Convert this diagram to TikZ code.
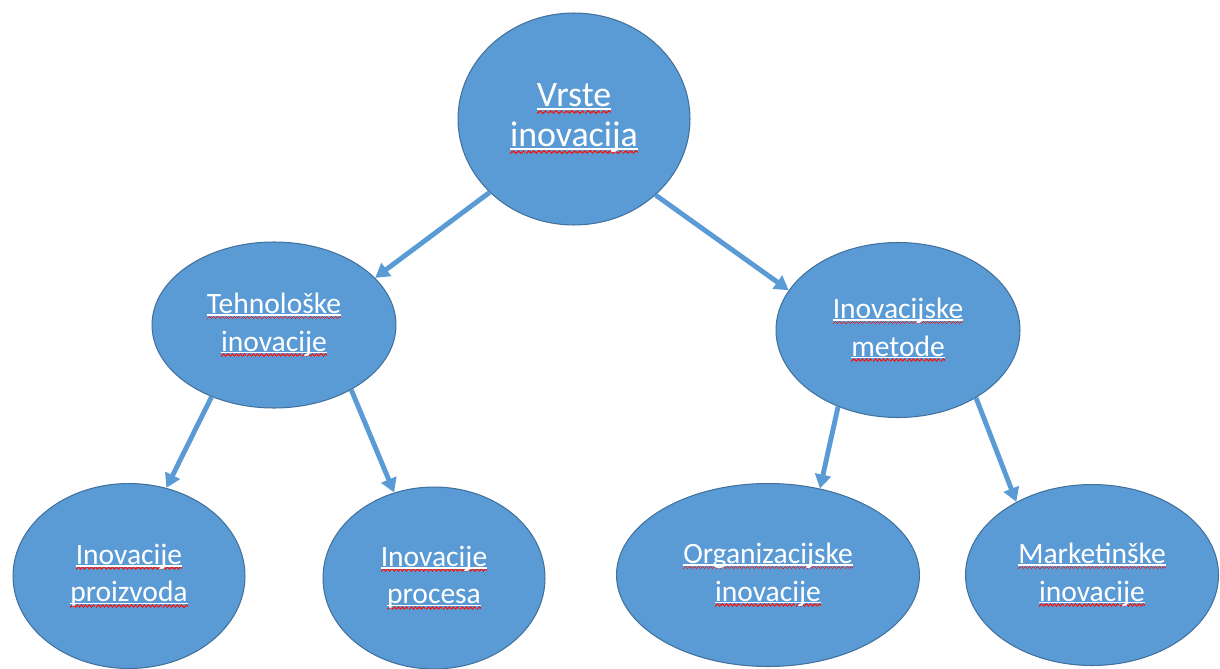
\documentclass[tikz,border=0pt]{standalone}
\usepackage{fontspec}
\setmainfont{Carlito}
\usetikzlibrary{shapes.geometric,arrows.meta}

\definecolor{kindblue}{RGB}{91,155,213}
\definecolor{kindrim}{RGB}{65,113,156}
\definecolor{wavered}{RGB}{230,35,35}

% wavy spell-check mark under a word
\newcommand\wavebit{\rule[-0.21em]{0.035em}{0.065em}\rule[-0.175em]{0.035em}{0.065em}%
  \rule[-0.14em]{0.035em}{0.065em}\rule[-0.175em]{0.035em}{0.065em}}
\newcommand\sperr[1]{\leavevmode\setbox0\hbox{#1}%
  \rlap{\hbox to\wd0{\color{wavered}\xleaders\hbox{\wavebit}\hfil}}%
  \rlap{\textcolor{white}{\rule[-0.08em]{\wd0}{0.05em}}}%
  \box0}

\begin{document}
\begin{tikzpicture}[x=0.02cm,y=-0.02cm,
  kind/.style={ellipse,draw=kindrim,fill=kindblue,text=white,align=center,inner sep=0pt,line width=0.6pt},
  rootkind/.style={kind,font=\fontsize{20.4}{22.7}\selectfont},
  subkind/.style={kind,font=\fontsize{16.8}{21.5}\selectfont},
  link/.style={draw=kindblue,line width=2.8pt,-{Triangle[length=8pt,width=9pt]}}]
	\useasboundingbox (0,0) rectangle (1220,669);
	\clip (0,0) rectangle (1220,669);
	
	%Root
	\node[rootkind,minimum width=4.64cm,minimum height=4.24cm] (vrste) at (574,119) {\sperr{Vrste}\\\sperr{inovacija}};
	
	%Second level
	\node[subkind,minimum width=4.88cm,minimum height=3.32cm] (tehno) at (274,325) {\sperr{Tehnološke}\\\sperr{inovacije}};
	\node[subkind,minimum width=4.88cm,minimum height=3.5cm] (metode) at (898,330) {\sperr{Inovacijske}\\\sperr{metode}};
	
	%Third level
	\node[subkind,minimum width=4.64cm,minimum height=3.7cm] (proizvod) at (129,576) {\sperr{Inovacije}\\\sperr{proizvoda}};
	\node[subkind,minimum width=4.44cm,minimum height=3.64cm] (proces) at (434,578) {\sperr{Inovacije}\\\sperr{procesa}};
	\node[subkind,minimum width=6.06cm,minimum height=3.66cm] (organiz) at (768,575) {\sperr{Organizacijske}\\\sperr{inovacije}};
	\node[subkind,minimum width=5.06cm,minimum height=3.62cm] (market) at (1092,575) {\sperr{Marketinške}\\\sperr{inovacije}};
	
	%Arrows
	\draw[link] (vrste.221) -- (tehno.25);
	\draw[link] (vrste.-43) -- (metode.160);
	\draw[link] (tehno.229) -- (proizvod.67);
	\draw[link] (tehno.-40) -- (proces.115);
	\draw[link] (metode.232) -- (organiz.59);
	\draw[link] (metode.-41) -- (market.136);
\end{tikzpicture}
\end{document}
